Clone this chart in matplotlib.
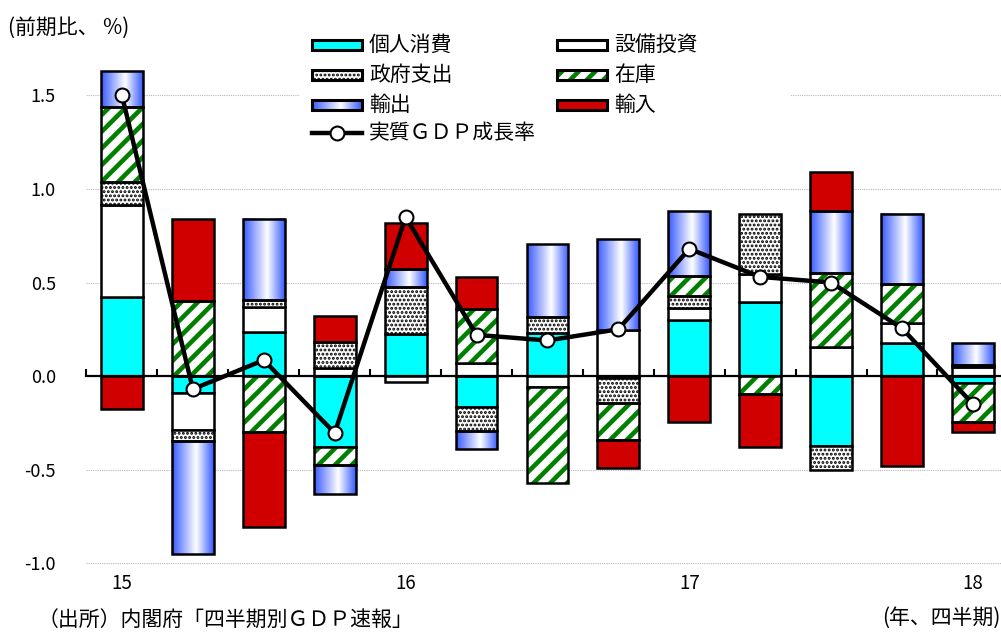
import numpy as np
import matplotlib
matplotlib.use('Agg')
import matplotlib.pyplot as plt
from matplotlib.patches import Rectangle
from matplotlib.lines import Line2D
from matplotlib.colors import LinearSegmentedColormap

plt.rcParams['font.family'] = ['Noto Sans CJK JP', 'DejaVu Sans']

# 2015Q1 .. 2018Q1, contributions to real GDP growth (q/q, %)
quarters = ['15Q1', '15Q2', '15Q3', '15Q4', '16Q1', '16Q2', '16Q3', '16Q4',
            '17Q1', '17Q2', '17Q3', '17Q4', '18Q1']
year_labels = ['15', '16', '17', '18']
year_index = [0, 4, 8, 12]

consumption = [0.42, -0.09, 0.235, -0.38, 0.225, -0.165, 0.23, -0.01,
               0.30, 0.395, -0.375, 0.175, -0.04]
investment = [0.497, -0.20, 0.135, 0.045, -0.03, 0.07, -0.06, 0.245,
              0.065, 0.15, 0.155, 0.11, 0.05]
government = [0.123, -0.06, 0.035, 0.135, 0.25, -0.13, 0.085, -0.135,
              0.065, 0.32, -0.125, 0.0, 0.01]
inventory = [0.40, 0.40, -0.30, -0.095, 0.0, 0.29, -0.51, -0.195,
             0.105, -0.095, 0.395, 0.205, -0.205]
exports = [0.19, -0.60, 0.435, -0.155, 0.095, -0.095, 0.39, 0.485,
           0.345, 0.0, 0.335, 0.375, 0.115]
imports = [-0.176, 0.44, -0.51, 0.14, 0.25, 0.17, 0.0, -0.15,
           -0.245, -0.285, 0.205, -0.48, -0.055]
gdp = [1.50, -0.07, 0.085, -0.305, 0.85, 0.22, 0.19, 0.25,
       0.68, 0.53, 0.50, 0.255, -0.15]

series = [('個人消費', consumption), ('設備投資', investment),
          ('政府支出', government), ('在庫', inventory),
          ('輸出', exports), ('輸入', imports)]

cyan = '#00FFFF'
red = '#D00000'
green = '#008000'
blue_edge = '#3A5CFF'
grad_cmap = LinearSegmentedColormap.from_list(
    'exp', [(0, blue_edge), (0.58, 'white'), (1, blue_edge)])
grad = np.linspace(0, 1, 64)[None, :]

DOT_LW = 1.4
STRIPE_LW = 3.3
plt.rcParams['hatch.linewidth'] = STRIPE_LW

fig = plt.figure(figsize=(10.01, 6.33), dpi=100)
ax = fig.add_axes([0.0864, 0.081, 0.921, 0.842])

x = np.arange(len(quarters))
w = 0.59
edge_lw = 1.8

# stack positives upward, negatives downward in series order
pos_base = np.zeros(len(x))
neg_base = np.zeros(len(x))
stacks = {}
for name, vals in series:
    v = np.array(vals, dtype=float)
    bottom = np.where(v >= 0, pos_base, neg_base)
    stacks[name] = (bottom, v)
    pos_base += np.where(v > 0, v, 0)
    neg_base += np.where(v < 0, v, 0)


def seg(name):
    b, v = stacks[name]
    m = v != 0
    return x[m], v[m], b[m]


def set_hlw(patches, lw):
    for p in patches:
        if hasattr(p, 'set_hatch_linewidth'):
            p.set_hatch_linewidth(lw)


xs, v, b = seg('個人消費')
ax.bar(xs, v, w, bottom=b, color=cyan, edgecolor='black', lw=edge_lw, zorder=2)

xs, v, b = seg('設備投資')
ax.bar(xs, v, w, bottom=b, color='white', edgecolor='black', lw=edge_lw, zorder=2)

xs, v, b = seg('政府支出')
bars = ax.bar(xs, v, w, bottom=b, color='white', edgecolor='black',
              lw=0, hatch='....', zorder=2)
set_hlw(bars, DOT_LW)
ax.bar(xs, v, w, bottom=b, facecolor='none', edgecolor='black', lw=edge_lw, zorder=2.1)

xs, v, b = seg('在庫')
bars = ax.bar(xs, v, w, bottom=b, color='white', edgecolor=green,
              lw=0, hatch='//', zorder=2)
set_hlw(bars, STRIPE_LW)
ax.bar(xs, v, w, bottom=b, facecolor='none', edgecolor='black', lw=edge_lw, zorder=2.1)

xs, v, b = seg('輸出')
for xi, vi, bi in zip(xs, v, b):
    ax.imshow(grad, cmap=grad_cmap, aspect='auto', interpolation='bilinear',
              extent=(xi - w / 2, xi + w / 2, bi, bi + vi), zorder=2)
ax.bar(xs, v, w, bottom=b, facecolor='none', edgecolor='black', lw=edge_lw, zorder=2.1)

xs, v, b = seg('輸入')
ax.bar(xs, v, w, bottom=b, color=red, edgecolor='black', lw=edge_lw, zorder=2)

ax.plot(x, gdp, color='black', lw=3.2, marker='o', ms=10, mfc='white',
        mec='black', mew=1.5, zorder=5)

ax.set_xlim(-0.5, 12.5)
ax.set_ylim(-1.1, 1.75)
for s in ['top', 'right', 'left']:
    ax.spines[s].set_visible(False)
ax.spines['bottom'].set_position(('data', 0))
ax.spines['bottom'].set_linewidth(1.6)
ax.set_xticks(np.arange(-0.5, 13, 1))
ax.tick_params(axis='x', direction='in', length=5, width=1.5, labelbottom=False)
yticks = [-1.0, -0.5, 0.0, 0.5, 1.0, 1.5]
ax.set_yticks(yticks)
ax.set_yticklabels([f'{t:.1f}' for t in yticks])
ax.tick_params(axis='y', length=0, pad=22, labelsize=13)
ax.yaxis.grid(True, linestyle=(0, (1, 1)), color='#b8b8b8', lw=0.8)
ax.set_axisbelow(True)

for pos, lab in zip(year_index, year_labels):
    ax.text(pos, -1.112, lab, ha='center', va='center', fontsize=13.5)

fig.text(8 / 1001, 1 - 28 / 633, '(前期比、 %)', ha='left', va='center', fontsize=15)
fig.text(38 / 1001, 1 - 621 / 633, '（出所）内閣府「四半期別ＧＤＰ速報」',
         ha='left', va='center', fontsize=15)
fig.text(1000 / 1001, 1 - 618 / 633, '(年、四半期)', ha='right', va='center', fontsize=15)

# legend drawn in pixel coordinates on an overlay
lax = fig.add_axes([0, 0, 1, 1], zorder=3)
lax.set_xlim(0, 1001)
lax.set_ylim(633, 0)
lax.axis('off')
lax.add_patch(Rectangle((300, 30), 490, 120, facecolor='white', edgecolor='none', zorder=1))

rows = [45, 75, 105, 133]
col_x = [312, 557]
pw, ph = 50, 10


def legend_box(cx, cy, hlw=None, **kw):
    p = Rectangle((cx, cy - ph / 2), pw, ph, zorder=3, **kw)
    if hlw is not None and hasattr(p, 'set_hatch_linewidth'):
        p.set_hatch_linewidth(hlw)
    lax.add_patch(p)


legend_box(col_x[0], rows[0], facecolor=cyan, edgecolor='black', lw=2.2)
legend_box(col_x[0], rows[1], hlw=DOT_LW, facecolor='white', edgecolor='black',
           hatch='....', lw=0)
legend_box(col_x[0], rows[1], facecolor='none', edgecolor='black', lw=2.2)
lax.imshow(grad, cmap=grad_cmap, aspect='auto', interpolation='bilinear', zorder=2,
           extent=(col_x[0], col_x[0] + pw, rows[2] + ph / 2, rows[2] - ph / 2))
legend_box(col_x[0], rows[2], facecolor='none', edgecolor='black', lw=2.2)
lax.add_line(Line2D([col_x[0], col_x[0] + pw], [rows[3], rows[3]], color='black',
                    lw=3.2, zorder=3))
lax.plot([col_x[0] + pw / 2], [rows[3]], marker='o', ms=10, mfc='white', mec='black',
         mew=1.5, zorder=4)

legend_box(col_x[1], rows[0], facecolor='white', edgecolor='black', lw=2.2)
legend_box(col_x[1], rows[1], hlw=STRIPE_LW, facecolor='white', edgecolor=green,
           hatch='//', lw=0)
legend_box(col_x[1], rows[1], facecolor='none', edgecolor='black', lw=2.2)
legend_box(col_x[1], rows[2], facecolor=red, edgecolor='black', lw=2.2)

col1 = ['個人消費', '政府支出', '輸出', '実質ＧＤＰ成長率']
col2 = ['設備投資', '在庫', '輸入']
for lab, ry in zip(col1, rows):
    lax.text(col_x[0] + pw + 7, ry, lab, ha='left', va='center', fontsize=15)
for lab, ry in zip(col2, rows):
    lax.text(col_x[1] + pw + 7, ry, lab, ha='left', va='center', fontsize=15)
lax.set_xlim(0, 1001)
lax.set_ylim(633, 0)

fig.savefig('out.png', dpi=100)
